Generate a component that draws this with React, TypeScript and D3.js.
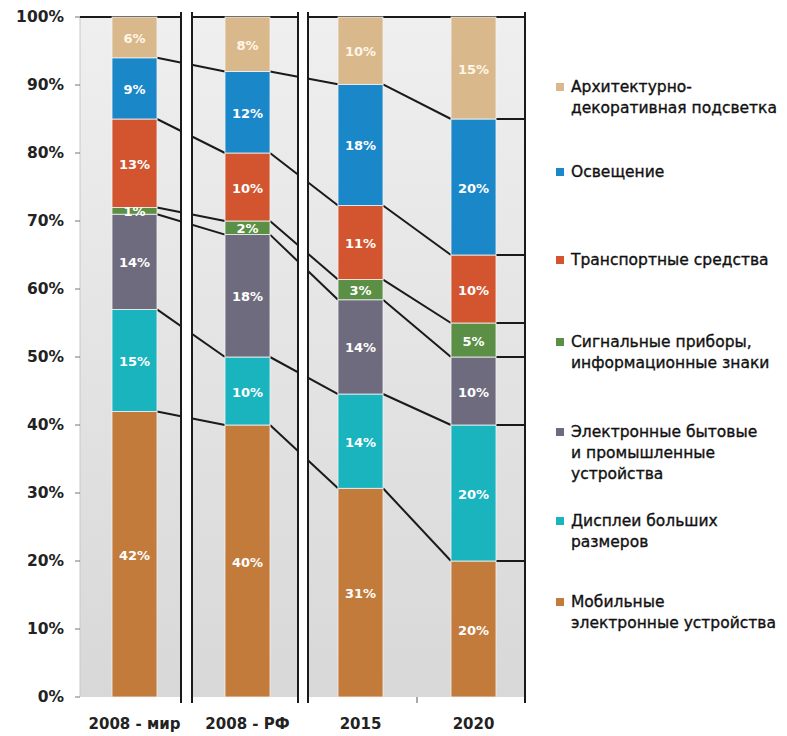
import React from 'react';
import * as d3 from 'd3';

// ---------- data ----------
const categories = ['2008 - мир', '2008 - РФ', '2015', '2020'];
const mobileDevices = [42, 40, 31, 20];
const largeDisplays = [15, 10, 14, 20];
const electronics = [14, 18, 14, 10];
const signalDevices = [1, 2, 3, 5];
const transport = [13, 10, 11, 10];
const lighting = [9, 12, 18, 20];
const architectural = [6, 8, 10, 15];

const seriesKeys = ['mobile', 'displays', 'electronics', 'signal', 'transport', 'lighting', 'arch'];
const seriesValues = [mobileDevices, largeDisplays, electronics, signalDevices, transport, lighting, architectural];
const seriesColors = ['#c27b3b', '#1ab4bf', '#6f6b7e', '#5a8f45', '#d3552f', '#1a87c9', '#d9b98b'];
const legendOrder = ['arch', 'lighting', 'transport', 'signal', 'electronics', 'displays', 'mobile'];
const legendLabels: Record<string, string[]> = {
  arch: ['Архитектурно-', 'декоративная подсветка'],
  lighting: ['Освещение'],
  transport: ['Транспортные средства'],
  signal: ['Сигнальные приборы,', 'информационные знаки'],
  electronics: ['Электронные бытовые', 'и промышленные', 'устройства'],
  displays: ['Дисплеи больших', 'размеров'],
  mobile: ['Мобильные', 'электронные устройства'],
};
const yTickValues = [0, 0.1, 0.2, 0.3, 0.4, 0.5, 0.6, 0.7, 0.8, 0.9, 1];

// ---------- layout ----------
const W = 787;
const H = 736;
const plotLeft = 80;
const plotRight = 525;
const plotTop = 17;
const plotBottom = 697;
const barW = 45;
const legendFirstLineY = [87, 172, 260, 342, 432, 521, 602];
const lineGap = 21;

export default function App() {
  const rows = categories.map((c, i) => {
    const r: any = { cat: c };
    seriesKeys.forEach((k, j) => (r[k] = seriesValues[j][i]));
    return r;
  });
  const stacked = d3.stack<any>().keys(seriesKeys).offset(d3.stackOffsetExpand)(rows);

  const x = d3.scalePoint<string>().domain(categories).range([134.5, 473.5]);
  const y = d3.scaleLinear().domain([0, 1]).range([plotBottom, plotTop]);
  const color = d3.scaleOrdinal<string, string>().domain(seriesKeys).range(seriesColors);
  const fmt = d3.format('.0%');

  const cx = (i: number) => x(categories[i]) as number;

  // panel break gaps
  const gaps = [
    [181, 192],
    [298, 308],
  ];

  const connectors: { x1: number; y1: number; x2: number; y2: number }[] = [];
  stacked.forEach((s) => {
    s.forEach((d, i) => {
      const x1 = cx(i) + barW / 2;
      const y1 = y(d[1]);
      if (i < categories.length - 1) {
        connectors.push({ x1, y1, x2: cx(i + 1) - barW / 2, y2: y(s[i + 1][1]) });
      } else {
        connectors.push({ x1, y1, x2: plotRight, y2: y1 });
      }
    });
  });

  const font = "'DejaVu Sans', Verdana, sans-serif";

  return (
    <svg width={W} height={H} style={{ position: 'absolute', left: 0, top: 0, background: '#fff' }}>
      <defs>
        <linearGradient id="bg" x1="0" y1="0" x2="0" y2="1">
          <stop offset="0%" stopColor="#efefef" />
          <stop offset="100%" stopColor="#d8d8d8" />
        </linearGradient>
      </defs>
      {/* plot background */}
      <rect x={plotLeft} y={plotTop} width={plotRight - plotLeft} height={plotBottom - plotTop} fill="url(#bg)" />
      <line x1={plotLeft} x2={plotLeft} y1={plotTop} y2={plotBottom} stroke="#c8c8c8" strokeWidth={1} />

      {/* connector lines */}
      <line x1={plotLeft} x2={plotRight} y1={plotTop} y2={plotTop} stroke="#1a1a1a" strokeWidth={2} />
      {connectors.map((c, i) => (
        <line key={i} x1={c.x1} y1={c.y1} x2={c.x2} y2={c.y2} stroke="#1a1a1a" strokeWidth={2} />
      ))}

      {/* white panel breaks */}
      {gaps.map((g, i) => (
        <rect key={i} x={g[0]} y={plotTop - 6} width={g[1] - g[0]} height={plotBottom - plotTop + 14} fill="#fff" />
      ))}
      {[...gaps.flat(), plotRight].map((gx, i) => (
        <line key={i} x1={gx} x2={gx} y1={plotTop - 5} y2={plotBottom + 6} stroke="#1a1a1a" strokeWidth={2} />
      ))}
      <line
        x1={(cx(2) + cx(3)) / 2}
        x2={(cx(2) + cx(3)) / 2}
        y1={plotBottom}
        y2={plotBottom + 6}
        stroke="#555"
        strokeWidth={1}
      />

      {/* bars */}
      {stacked.map((s) => (
        <g key={s.key}>
          {s.map((d, i) => (
            <rect
              key={i}
              x={cx(i) - barW / 2}
              y={y(d[1])}
              width={barW}
              height={y(d[0]) - y(d[1])}
              fill={color(s.key)}
              stroke="#f2f2f2"
              strokeWidth={0.8}
            />
          ))}
        </g>
      ))}
      {/* bar labels */}
      {stacked.map((s, j) => (
        <g key={'l' + s.key}>
          {s.map((d, i) => (
            <text
              key={i}
              x={cx(i)}
              y={(y(d[0]) + y(d[1])) / 2 + 1}
              textAnchor="middle"
              dominantBaseline="central"
              fill={s.key === 'arch' ? '#fff6e8' : '#ffffff'}
              fontFamily={font}
              fontWeight="bold"
              fontSize={13}
            >
              {seriesValues[j][i] + '%'}
            </text>
          ))}
        </g>
      ))}

      {/* y axis */}
      {yTickValues.map((t) => (
        <g key={t}>
          <line x1={plotLeft - 5} x2={plotLeft} y1={y(t)} y2={y(t)} stroke="#777" strokeWidth={1} />
          <text
            x={plotLeft - 16}
            y={y(t)}
            textAnchor="end"
            dominantBaseline="central"
            fontFamily={font}
            fontWeight="bold"
            fontSize={15.5}
            fill="#222"
          >
            {fmt(t)}
          </text>
        </g>
      ))}

      {/* x labels */}
      {categories.map((c, i) => (
        <text
          key={c}
          x={cx(i)}
          y={724}
          textAnchor="middle"
          dominantBaseline="central"
          fontFamily={font}
          fontWeight="bold"
          fontSize={15}
          fill="#222"
        >
          {c}
        </text>
      ))}

      {/* legend */}
      {legendOrder.map((k, i) => (
        <g key={k}>
          <rect x={556} y={legendFirstLineY[i] - 4} width={8} height={8} fill={color(k)} />
          {legendLabels[k].map((line, li) => (
            <text
              key={li}
              x={571}
              y={legendFirstLineY[i] + li * lineGap}
              dominantBaseline="central"
              fontFamily={font}
              fontSize={15.5}
              fill="#111"
              stroke="#111"
              strokeWidth={0.35}
            >
              {line}
            </text>
          ))}
        </g>
      ))}
    </svg>
  );
}
